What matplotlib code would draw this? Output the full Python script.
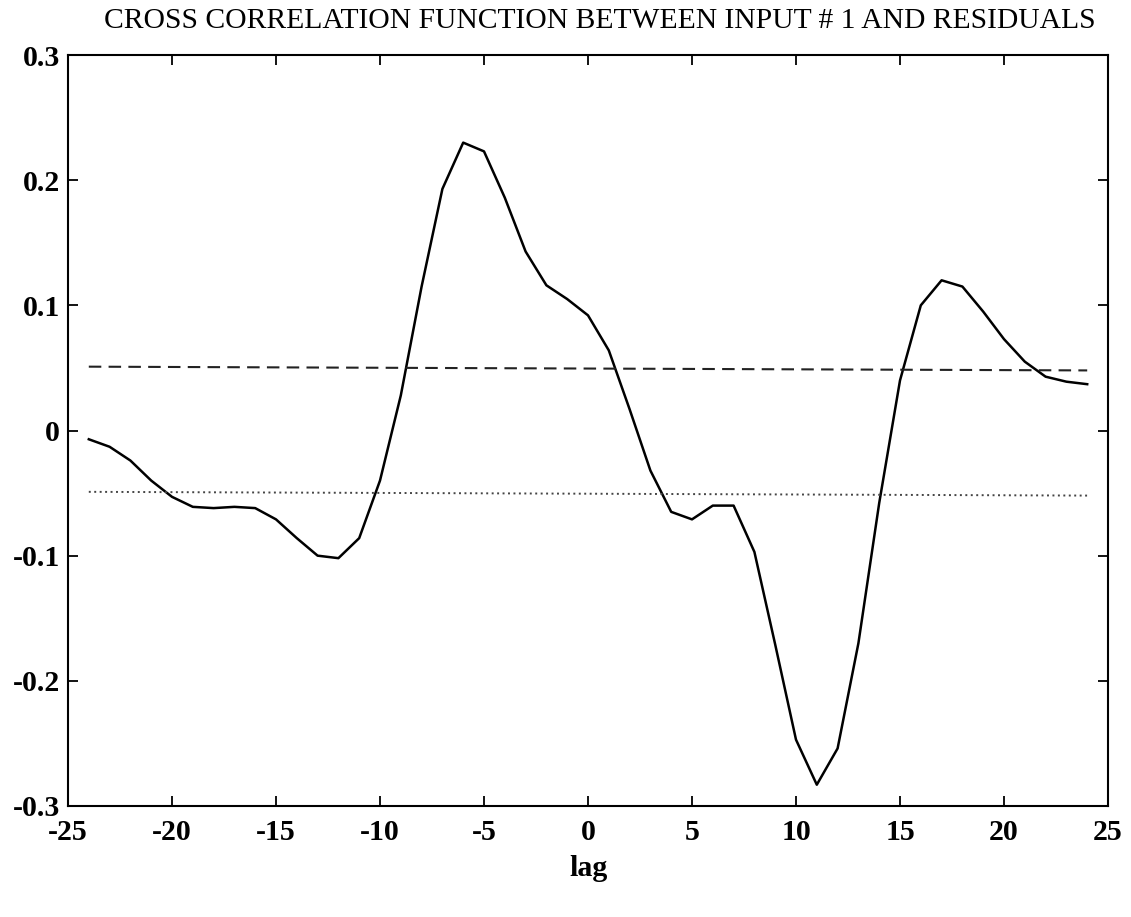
import matplotlib
matplotlib.use("Agg")
import matplotlib.pyplot as plt

lags = list(range(-24, 25))
ccf = [-0.007, -0.013, -0.024, -0.040, -0.053, -0.061, -0.062, -0.061, -0.062,
       -0.071, -0.086, -0.100, -0.102, -0.086, -0.040, 0.028, 0.115, 0.193,
       0.230, 0.223, 0.186, 0.143, 0.116, 0.105, 0.092, 0.064, 0.017, -0.032,
       -0.065, -0.071, -0.060, -0.060, -0.097, -0.171, -0.247, -0.283, -0.254,
       -0.170, -0.058, 0.040, 0.100, 0.120, 0.115, 0.095, 0.073, 0.055, 0.043,
       0.039, 0.037]
band_x = [-24, 24]
upper_band = [0.051, 0.048]
lower_band = [-0.049, -0.052]

title = "CROSS CORRELATION FUNCTION BETWEEN INPUT # 1 AND RESIDUALS"
xticks = [-25, -20, -15, -10, -5, 0, 5, 10, 15, 20, 25]
xticklabels = ["-25", "-20", "-15", "-10", "-5", "0", "5", "10", "15", "20", "25"]
yticks = [-0.3, -0.2, -0.1, 0, 0.1, 0.2, 0.3]
yticklabels = ["-0.3", "-0.2", "-0.1", "0", "0.1", "0.2", "0.3"]

plt.rcParams['font.family'] = ['Liberation Serif', 'DejaVu Serif']

fig = plt.figure(figsize=(11.31, 9.17), dpi=100)
ax = fig.add_axes([68/1131, 1-806/917, (1108-68)/1131, (806-55)/917])

ax.plot(lags, ccf, color='black', lw=1.8)
ax.plot(band_x, upper_band, color='#222222', lw=1.5, linestyle=(0, (6, 3.5)))
ax.plot(band_x, lower_band, color='#444444', lw=1.4, linestyle=(0, (1, 1.8)))

ax.set_xlim(-25, 25)
ax.set_ylim(-0.3, 0.3)
ax.set_xticks(xticks)
ax.set_xticklabels(xticklabels)
ax.set_yticks(yticks)
ax.set_yticklabels(yticklabels)
ax.tick_params(direction='in', length=7, width=1.3, top=True, right=True,
               labelsize=21.5)
ax.tick_params(axis='x', pad=9)
ax.tick_params(axis='y', pad=6)
for lab in ax.get_xticklabels() + ax.get_yticklabels():
    lab.set_fontweight('bold')
for s in ax.spines.values():
    s.set_linewidth(1.5)

ax.set_xlabel("lag", fontsize=21.5, fontweight='bold', labelpad=7)
fig.text(600/1131, 1-21/917, title, ha='center', va='center', fontsize=21.3)

fig.savefig("out.png", dpi=100)
